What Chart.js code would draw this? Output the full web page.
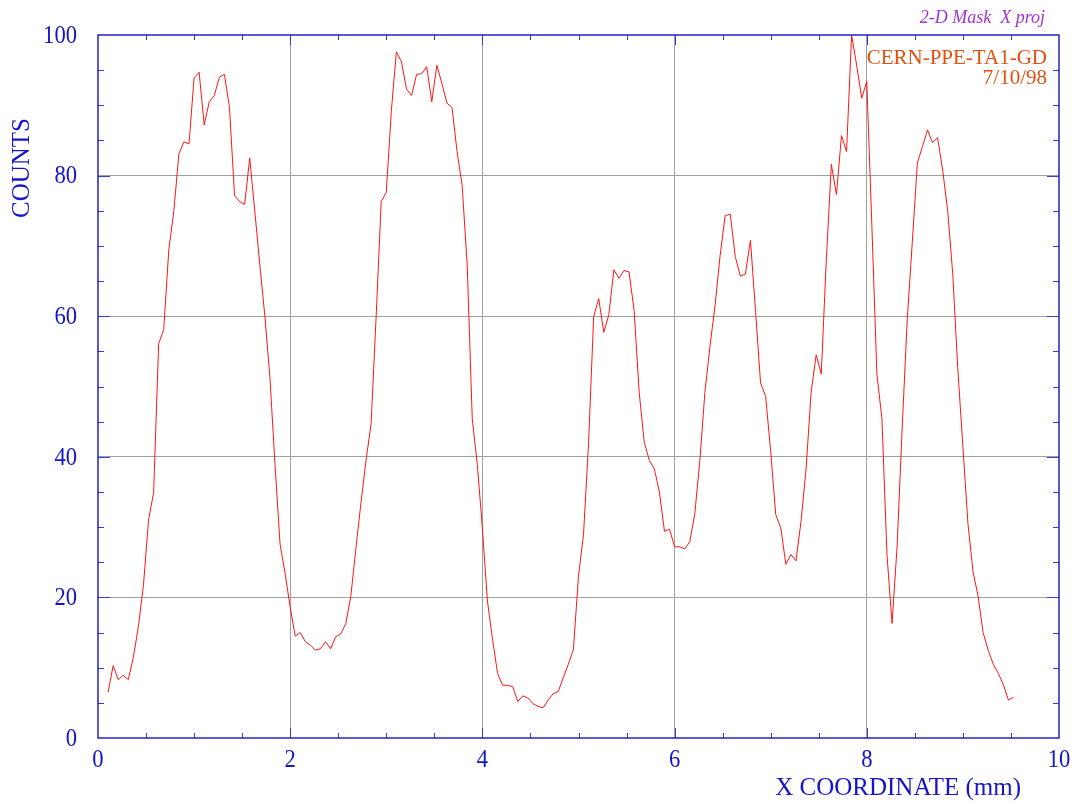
<!DOCTYPE html>
<html>
<head>
<meta charset="utf-8">
<script src="https://cdn.jsdelivr.net/npm/chart.js@4.4.0/dist/chart.umd.min.js"></script>
<style>
  html, body { margin: 0; padding: 0; background: #ffffff; }
  #wrap { width: 1078px; height: 804px; }
</style>
</head>
<body>
<div id="wrap"><canvas id="myChart" width="1078" height="804"></canvas></div>
<script>
// histogram binning (mm)
var binStart = 0.105;
var binWidth = 10 / 190;

// counts per bin
var counts = [
    6.5, 10.3, 8.3, 8.9, 8.3, 11.5, 15.9, 21.8, 31.0, 34.9,
    56.1, 58.1, 69.4, 75.0, 83.1, 84.8, 84.5, 93.9, 94.7, 87.2,
    90.5, 91.4, 94.0, 94.4, 89.7, 77.2, 76.3, 75.9, 82.5, 75.0,
    67.3, 60.0, 51.2, 38.9, 27.6, 23.4, 18.6, 14.5, 15.0, 13.7,
    13.2, 12.5, 12.7, 13.7, 12.7, 14.4, 14.8, 16.3, 20.2, 27.0,
    33.5, 39.5, 44.7, 60.0, 76.3, 77.6, 89.2, 97.6, 96.2, 92.3,
    91.4, 94.4, 94.5, 95.5, 90.5, 95.7, 93.1, 90.3, 89.7, 83.4,
    78.6, 67.3, 45.4, 38.9, 29.9, 19.5, 14.1, 9.2, 7.5, 7.5,
    7.3, 5.2, 6.0, 5.7, 4.9, 4.5, 4.3, 5.4, 6.3, 6.6,
    8.6, 10.5, 12.6, 23.0, 29.0, 42.0, 59.9, 62.5, 57.7, 60.2,
    66.6, 65.4, 66.5, 66.3, 60.8, 49.2, 42.1, 39.5, 38.3, 35.0,
    29.4, 29.7, 27.2, 27.2, 26.9, 27.9, 31.9, 39.5, 49.2, 55.7,
    61.5, 68.6, 74.3, 74.5, 68.5, 65.7, 66.0, 70.8, 60.8, 50.5,
    48.6, 40.8, 31.8, 29.9, 24.7, 26.1, 25.2, 30.8, 38.3, 49.2,
    54.5, 51.8, 68.0, 81.6, 77.3, 85.7, 83.4, 100.0, 95.7, 91.0,
    93.4, 73.0, 51.8, 45.4, 26.0, 16.3, 27.3, 44.1, 59.5, 70.5,
    81.8, 84.1, 86.5, 84.7, 85.4, 80.8, 75.0, 66.0, 52.5, 41.5,
    30.5, 23.7, 20.2, 15.0, 12.5, 10.5, 9.2, 7.6, 5.4, 5.8
];

var xTicks = [0, 2, 4, 6, 8, 10];
var yTicks = [0, 20, 40, 60, 80, 100];
var xTitle = 'X COORDINATE (mm)';
var yTitle = 'COUNTS';
var histTitle = '2-D Mask  X proj';
var stampLines = ['CERN-PPE-TA1-GD', '7/10/98'];

var blue = '#1414c8';
var serif = '"Liberation Serif", "DejaVu Serif", serif';

var points = [];
for (var i = 0; i < counts.length; i++) {
    points.push({ x: binStart + i * binWidth, y: counts[i] });
}

// the old plot uses a narrow, tall numeral font
function narrowText(ctx, txt, x, y, align) {
    ctx.save();
    ctx.translate(x, y);
    ctx.scale(0.87, 1);
    ctx.textAlign = align;
    ctx.fillText(txt, 0, 0);
    ctx.restore();
}

// frame, inward ticks, tick labels and texts
var framePlugin = {
    id: 'framePlugin',
    afterDatasetsDraw: function (chart) {
        var ctx = chart.ctx;
        var a = chart.chartArea;
        var xs = chart.scales.x;
        var ys = chart.scales.y;
        ctx.save();

        // minor + major ticks, pointing inward on all 4 sides
        ctx.strokeStyle = '#3c3cd8';
        ctx.lineWidth = 1;
        ctx.beginPath();
        for (var v = 0.5; v < 10; v += 0.5) {
            var px = Math.round(xs.getPixelForValue(v)) + 0.5;
            var len = (v % 2 === 0) ? 10 : 5;
            ctx.moveTo(px, a.bottom); ctx.lineTo(px, a.bottom - len);
            ctx.moveTo(px, a.top); ctx.lineTo(px, a.top + len);
        }
        for (var w = 5; w < 100; w += 5) {
            var py = Math.round(ys.getPixelForValue(w)) + 0.5;
            var len2 = (w % 20 === 0) ? 12 : 6;
            ctx.moveTo(a.left, py); ctx.lineTo(a.left + len2, py);
            ctx.moveTo(a.right, py); ctx.lineTo(a.right - len2, py);
        }
        ctx.stroke();

        // frame
        ctx.strokeStyle = blue;
        ctx.lineWidth = 1.4;
        ctx.strokeRect(a.left, a.top, a.right - a.left, a.bottom - a.top);

        // tick labels
        ctx.fillStyle = blue;
        ctx.font = '26px ' + serif;
        ctx.textBaseline = 'middle';
        xs.ticks.forEach(function (t) {
            narrowText(ctx, String(t.value), xs.getPixelForValue(t.value), 760, 'center');
        });
        ys.ticks.forEach(function (t) {
            narrowText(ctx, String(t.value), 77, ys.getPixelForValue(t.value) + 1, 'right');
        });

        // axis titles
        ctx.font = '25px ' + serif;
        ctx.textAlign = 'right';
        ctx.fillText(xTitle, 1021, 788);

        ctx.save();
        ctx.translate(22, 168);
        ctx.rotate(-Math.PI / 2);
        ctx.textAlign = 'center';
        ctx.fillText(yTitle, 0, 0);
        ctx.restore();

        // histogram title
        ctx.fillStyle = '#a032d2';
        ctx.font = 'italic 18px ' + serif;
        ctx.textAlign = 'right';
        ctx.fillText(histTitle, 1045, 18);

        // stamp
        ctx.fillStyle = '#e0500f';
        ctx.font = '21px ' + serif;
        ctx.fillText(stampLines[0], 1047, 58);
        ctx.fillText(stampLines[1], 1047, 78);

        ctx.restore();
    }
};

var ctx = document.getElementById('myChart').getContext('2d');
var myChart = new Chart(ctx, {
    type: 'line',
    data: {
        datasets: [
            {
                label: 'X proj',
                data: points,
                borderColor: 'rgb(255, 20, 20)',
                borderWidth: 1,
                pointRadius: 0,
                tension: 0,
                fill: false
            }
        ]
    },
    options: {
        responsive: false,
        animation: false,
        layout: {
            padding: { top: 35, right: 19, left: 0, bottom: 0 }
        },
        plugins: {
            legend: { display: false },
            tooltip: { enabled: false },
            title: { display: false }
        },
        scales: {
            x: {
                type: 'linear',
                min: 0,
                max: 10,
                afterBuildTicks: function (scale) {
                    scale.ticks = xTicks.map(function (v) { return { value: v }; });
                },
                afterFit: function (scale) { scale.height = 66; },
                border: { display: false },
                grid: {
                    drawTicks: false,
                    lineWidth: 1,
                    color: function (c) {
                        var v = c.tick ? c.tick.value : 0;
                        return (v === 0 || v === 10) ? 'rgba(0,0,0,0)' : '#a0a0a0';
                    }
                },
                ticks: { display: false }
            },
            y: {
                type: 'linear',
                min: 0,
                max: 100,
                afterBuildTicks: function (scale) {
                    scale.ticks = yTicks.map(function (v) { return { value: v }; });
                },
                afterFit: function (scale) { scale.width = 98; },
                border: { display: false },
                grid: {
                    drawTicks: false,
                    lineWidth: 1,
                    color: function (c) {
                        var v = c.tick ? c.tick.value : 0;
                        return (v === 0 || v === 100) ? 'rgba(0,0,0,0)' : '#a0a0a0';
                    }
                },
                ticks: { display: false }
            }
        }
    },
    plugins: [framePlugin]
});
</script>
</body>
</html>
